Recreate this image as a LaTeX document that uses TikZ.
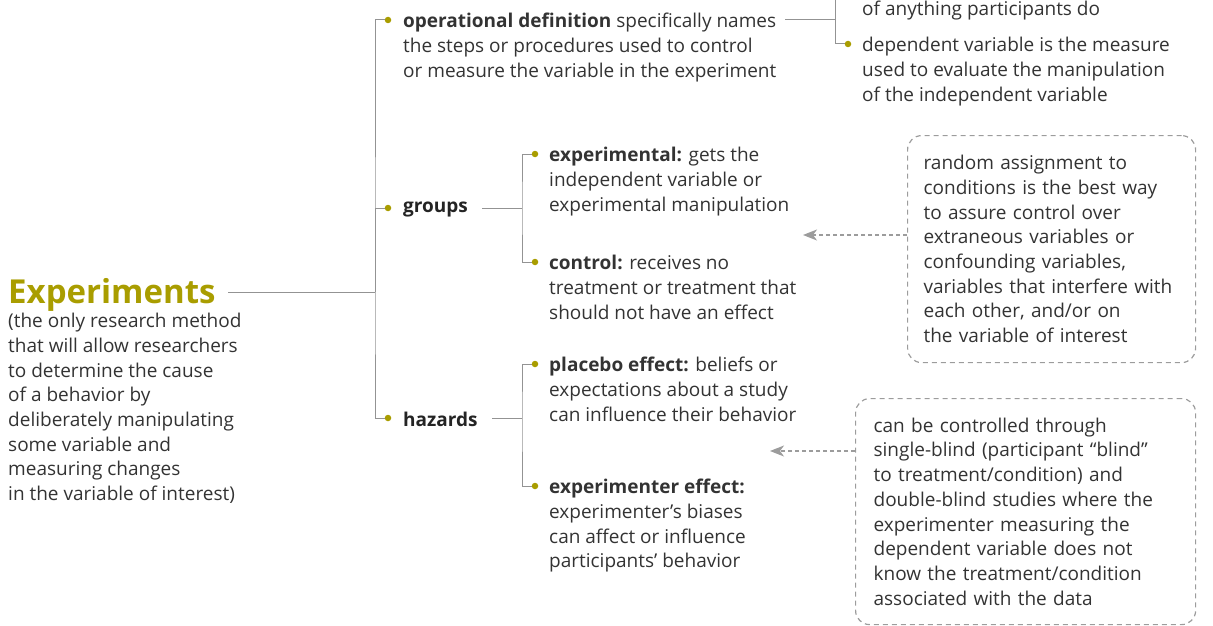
\documentclass[tikz,border=0pt]{standalone}
\usepackage{fontspec}
\setmainfont{Open Sans}
\usetikzlibrary{arrows.meta,positioning}
\definecolor{mustard}{HTML}{A99D00}
\definecolor{ink}{HTML}{333333}
\definecolor{rulegray}{HTML}{939393}
\definecolor{dashgray}{HTML}{9C9C9C}

\begin{document}
\begin{tikzpicture}[x=1pt,y=-1pt,
  txt/.style={anchor=north west,inner sep=0pt,align=left,text=ink,font=\fontsize{19}{24.7}\selectfont},
  lbl/.style={anchor=west,inner sep=0pt,text=ink!70!black,font=\fontsize{19}{24.7}\selectfont\bfseries},
  dot/.style={circle,fill=mustard,inner sep=0pt,minimum size=6.5pt},
  link/.style={rulegray,line width=1pt},
  note/.style={draw=dashgray,dash pattern=on 5pt off 4pt,line width=1.2pt,rounded corners=14pt,
    anchor=north west,align=left,text=ink,font=\fontsize{19}{24.7}\selectfont},
  hint/.style={dashgray,dash pattern=on 4pt off 3pt,line width=1.2pt,-{Stealth[length=14pt,width=11pt,inset=4pt]}}]
  \useasboundingbox (0,0) rectangle (1213,626);

  \node[font=\fontsize{33}{40}\selectfont\bfseries,text=mustard,anchor=base west,inner sep=0pt] (root) at (8,303) {Experiments};
  \node[txt] (rootnote) at (8,313) {(the only research method\\that will allow researchers\\to determine the cause\\of a behavior by\\deliberately manipulating\\some variable and\\measuring changes\\in the variable of interest)};

  \coordinate (trunk) at (375,292);
  \node[dot] (bdef) at (388,20) {};
  \node[dot] (bgrp) at (388,208) {};
  \node[dot] (bhaz) at (388,418) {};
  \draw[link,shorten >=12pt] (trunk) -- (trunk -| root.east);
  \draw[link] (bdef) -| (trunk) |- (bhaz);
  \draw[link] (trunk) |- (bgrp);

  \node[txt] (opdef) at (403,13) {\textbf{operational definition} specifically names\\the steps or procedures used to control\\or measure the variable in the experiment};
  \node[lbl] (groups) at (403,209) {groups};
  \node[lbl] (hazards) at (403,419) {hazards};

  \coordinate (djoin) at (835,20);
  \coordinate (dtop) at (835,0);
  \node[dot] (bdep) at (848,44) {};
  \draw[link] (dtop) |- (bdep);
  \draw[link,shorten >=8pt] (djoin) -- (djoin -| opdef.east);
  \node[txt] (prev) at (862,1) {of anything participants do};
  \node[txt] (depvar) at (862,37) {dependent variable is the measure\\used to evaluate the manipulation\\of the independent variable};

  \coordinate (gjoin) at (522,208);
  \node[dot] (bexp) at (535,154) {};
  \node[dot] (bctl) at (535,262) {};
  \draw[link] (bexp) -| (gjoin) |- (bctl);
  \draw[link,shorten >=14pt] (gjoin) -- (gjoin -| groups.east);
  \node[txt] (exper) at (549,147) {\textbf{experimental:} gets the\\independent variable or\\experimental manipulation};
  \node[txt] (control) at (549,255) {\textbf{control:} receives no\\treatment or treatment that\\should not have an effect};

  \coordinate (hjoin) at (522,418);
  \node[dot] (bplac) at (535,364) {};
  \node[dot] (bexpt) at (535,486) {};
  \draw[link] (bplac) -| (hjoin) |- (bexpt);
  \draw[link,shorten >=14pt] (hjoin) -- (hjoin -| hazards.east);
  \node[txt] (placebo) at (549,357) {\textbf{placebo effect:} beliefs or\\expectations about a study\\can influence their behavior};
  \node[txt] (exptr) at (549,479) {\textbf{experimenter effect:}\\experimenter's biases\\can affect or influence\\participants' behavior};

  \node[note,minimum width=288pt,minimum height=227pt,text width=256pt,inner xsep=16pt] (box1) at (907,135) {random assignment to\\conditions is the best way\\to assure control over\\extraneous variables or\\confounding variables,\\variables that interfere with\\each other, and/or on\\the variable of interest};
  \node[note,minimum width=340pt,minimum height=226pt,text width=304pt,inner xsep=18pt] (box2) at (855,398) {can be controlled through\\single-blind (participant ``blind''\\to treatment/condition) and\\double-blind studies where the\\experimenter measuring the\\dependent variable does not\\know the treatment/condition\\associated with the data};

  \coordinate (t1) at (803,235);
  \coordinate (t2) at (770,451);
  \draw[hint] (t1 -| box1.west) -- (t1);
  \draw[hint] (t2 -| box2.west) -- (t2);
\end{tikzpicture}
\end{document}
